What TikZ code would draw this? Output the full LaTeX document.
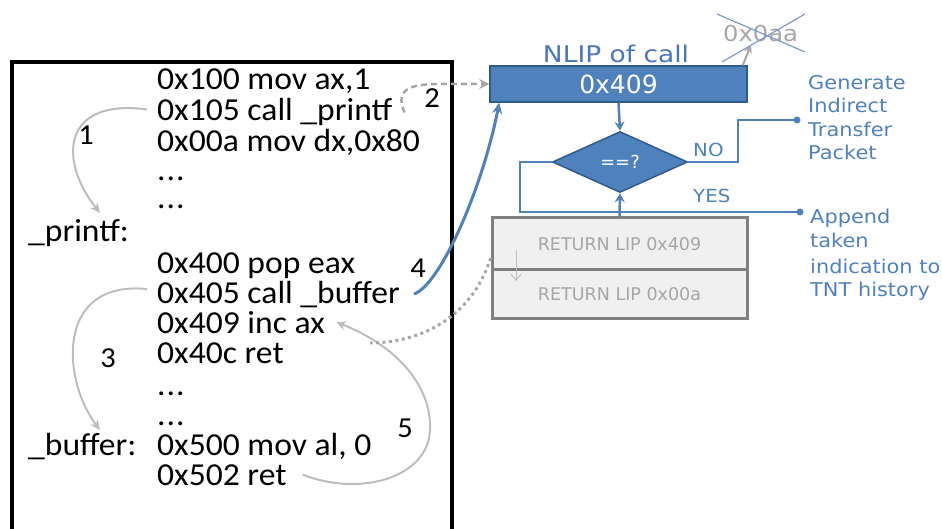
\documentclass[tikz,border=0pt]{standalone}
\usepackage{fontspec}
\setmainfont{Carlito}[FakeStretch=1.05]
\newfontfamily\sansn{DejaVu Sans}
\newfontfamily\sansw[FakeStretch=1.1]{DejaVu Sans}
\newfontfamily\sanst[FakeStretch=1.15]{DejaVu Sans}
\usetikzlibrary{arrows.meta,shapes.geometric}
\definecolor{nblue}{HTML}{4F81BD}
\definecolor{nbluedark}{HTML}{2E5A8C}
\definecolor{tblue}{HTML}{4A76BD}
\definecolor{agray}{HTML}{BDBDBD}
\definecolor{dgray}{HTML}{A6A6A6}
\definecolor{sgray}{HTML}{808080}
\definecolor{cellfill}{HTML}{F0F0F0}
\definecolor{xblue}{HTML}{7F98C4}
\begin{document}
\begin{tikzpicture}[x=1pt,y=-1pt,
  code/.style={anchor=base west,inner sep=0pt,font=\fontsize{32}{38}\selectfont},
  num/.style={anchor=base,inner sep=0pt,font=\fontsize{29}{33}\selectfont},
  garrow/.style={draw=agray,line width=2pt,-{Stealth[length=10pt,width=9pt]}},
  dasharrow/.style={draw=dgray,line width=2.5pt,dash pattern=on 6pt off 4pt,-{Stealth[length=10pt,width=10pt]}},
  dotline/.style={draw=dgray,line width=3pt,dash pattern=on 3pt off 3.5pt},
  barrow/.style={draw=nblue,line width=3pt,-{Stealth[length=11pt,width=10pt]}},
  flowarrow/.style={draw=nblue,line width=2.5pt,-{Stealth[length=9pt,width=10pt]}},
  bline/.style={draw=nblue,line width=1.6pt},
  bluebox/.style={rectangle,fill=nblue,draw=nbluedark,line width=1.5pt,inner sep=0pt,text=white},
  cell/.style={rectangle,fill=cellfill,draw=sgray,line width=3pt,inner sep=0pt,minimum width=255pt,
    text=dgray,font=\sansn\fontsize{17.5}{21}\selectfont},
  note/.style={anchor=base west,inner sep=0pt,text=nblue,font=\sansw\fontsize{19}{23}\selectfont},
  flag/.style={anchor=base west,inner sep=0pt,text=nblue,font=\sansw\fontsize{18}{22}\selectfont}]

\path[use as bounding box] (0,0) rectangle (942,529);
\clip (0,0) rectangle (942,529);

% listing frame, open towards the bottom
\draw[line width=4pt] (12,560) -- (12,62) -- (452,62) -- (452,560);

% program listing
\node[code] (c1)  at (157,90)  {0x100 mov ax,1};
\node[code] (c2)  at (157,121) {0x105 call \_printf};
\node[code] (c3)  at (157,152) {0x00a mov dx,0x80};
\node[code] (c4)  at (157,181) {.\kern1pt.\kern1pt.};
\node[code] (c5)  at (157,209) {.\kern1pt.\kern1pt.};
\node[code] (lp)  at (28,242)  {\_printf:};
\node[code] (c6)  at (157,273) {0x400 pop eax};
\node[code] (c7)  at (157,303) {0x405 call \_buffer};
\node[code] (c8)  at (157,333) {0x409 inc ax};
\node[code] (c9)  at (157,363) {0x40c ret};
\node[code] (c10) at (157,395) {.\kern1pt.\kern1pt.};
\node[code] (c11) at (157,425) {.\kern1pt.\kern1pt.};
\node[code] (lb)  at (28,455)  {\_buffer:};
\node[code] (c12) at (157,455) {0x500 mov al, 0};
\node[code] (c13) at (157,485) {0x502 ret};

% step numbers
\node[num] (n1) at (86,145)  {1};
\node[num] (n2) at (432,108) {2};
\node[num] (n3) at (108,367) {3};
\node[num] (n4) at (418,277) {4};
\node[num] (n5) at (405,437) {5};

% NLIP register
\node[bluebox,minimum width=257pt,minimum height=36pt,font=\sansn\fontsize{25}{30}\selectfont]
  (nlip) at (618.5,84) {0x409};
\node[anchor=base,inner sep=0pt,text=tblue,font=\sanst\fontsize{23}{28}\selectfont]
  (title) at (616,63) {NLIP of call};

% overwritten value
\node[anchor=base west,inner sep=0pt,text=dgray,font=\sansw\fontsize{22}{26}\selectfont]
  (old) at (723,42) {0x0aa};
\coordinate (xa1) at (717,14);
\coordinate (xa2) at (805,52);
\coordinate (xb1) at (722,62);
\coordinate (xb2) at (805,14);
\draw[xblue,line width=1.2pt] (xa1) -- (xa2);
\draw[xblue,line width=1.2pt] (xb1) -- (xb2);
\coordinate (oldtip) at (751,45);
\draw[dgray,line width=2pt,-{Stealth[length=8pt,width=8pt]}] ([xshift=-5pt]nlip.north east) -- (oldtip);

% comparison
\node[diamond,fill=nblue,draw=nbluedark,line width=1.5pt,inner sep=0pt,
  minimum width=135pt,minimum height=61pt,text=white,font=\sansn\fontsize{18}{22}\selectfont]
  (dia) at (620,162) {==?};

% return stack
\node[cell,minimum height=52pt] (s1) at (619.5,244) {RETURN LIP 0x409};
\node[cell,minimum height=48pt] (s2) at (619.5,294) {RETURN LIP 0x00a};
\coordinate (pa) at (516,250);
\coordinate (pb) at (516,281);
\draw[agray,line width=1pt,-{Straight Barb[length=6pt,width=10pt]}] (pa) -- (pb);

% flow lines
\draw[flowarrow] (nlip.south) -- (dia.north);
\draw[flowarrow] (s1.north) -- (dia.south);
\coordinate (dotG) at (797,120);
\coordinate (dotA) at (800,212);
\draw[bline] (dia.east) -- (738,162) -- (738,120) -- (dotG);
\draw[bline] (dia.west) -- (520,162) -- (520,212) -- (dotA);
\fill[nblue] (dotG) circle (3.5pt);
\fill[nblue] (dotA) circle (3.5pt);
\node[flag] (no)  at (693,157) {NO};
\node[flag] (yes) at (693,203) {YES};

% outcomes
\node[note] (g1) at (808,90)  {Generate};
\node[note] (g2) at (808,113) {Indirect};
\node[note] (g3) at (808,137) {Transfer};
\node[note] (g4) at (808,160) {Packet};
\node[note] (a1) at (810,224) {Append};
\node[note] (a2) at (810,248) {taken};
\node[note] (a3) at (810,273) {indication to};
\node[note] (a4) at (810,297) {TNT history};

% control transfers
\coordinate (t1) at (100,213);
\coordinate (t3) at (100,430);
\draw[garrow] ([xshift=-10pt,yshift=3pt]c2.west) .. controls (62,98) and (58,160) .. (t1);
\draw[garrow] ([xshift=-10pt,yshift=5pt]c7.west) .. controls (55,280) and (62,380) .. (t3);
\draw[dasharrow] ([xshift=12pt]c2.east) .. controls (395,90) and (408,84) .. (440,84) -- (nlip.west);
\draw[barrow] ([xshift=14pt]c7.east) .. controls (440,285) and (482,190) .. ([xshift=10pt]nlip.south west);
\coordinate (mid5) at (430,430);
\draw[garrow] ([xshift=16pt]c13.east) .. controls (360,497) and (428,478) .. (mid5)
  .. controls (432,385) and (395,345) .. ([xshift=11pt]c8.east);
\coordinate (d5) at (370,343);
\draw[dotline] ([yshift=-14pt]s1.west) .. controls (478,300) and (440,342) .. (d5);
\end{tikzpicture}
\end{document}
